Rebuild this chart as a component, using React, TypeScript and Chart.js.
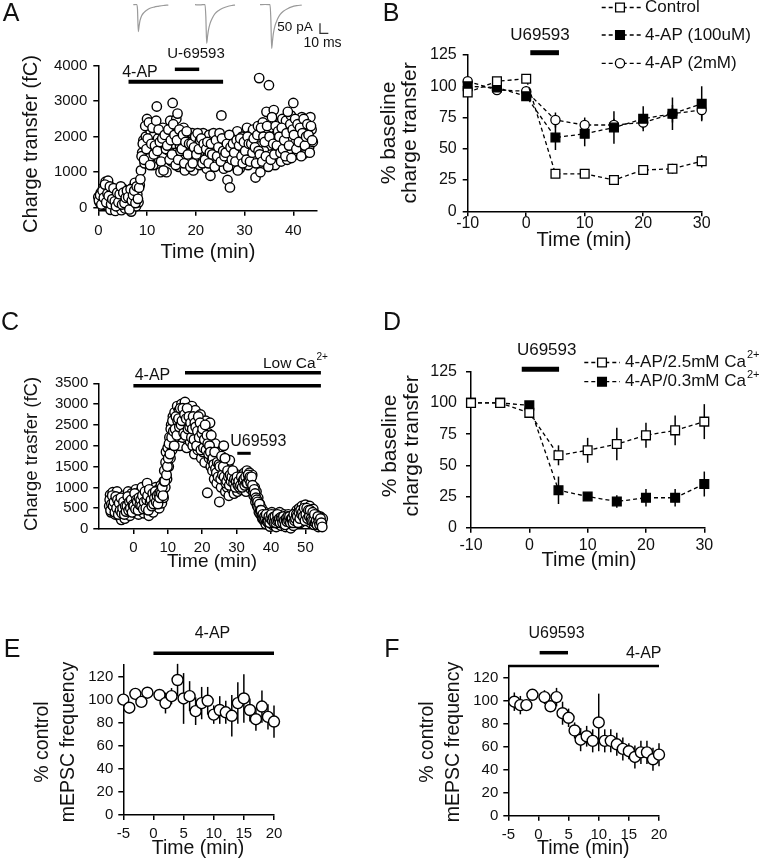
import React, { useEffect, useRef } from 'react';
import { Chart, registerables } from 'chart.js';
Chart.register(...registerables);

const W = 776;
const H = 863;
const FONT = '"Liberation Sans", Arial, Helvetica, sans-serif';
const INK = '#111';

// ---------------- DATA ----------------
// Panel A: charge transfer (fC), two interleaved sweep sets, each every 0.25 min
const aStart = 0;
const aStep = 0.25;
const aCharge = [
  300, 150, 420, 250, 560, 80, 730, 320, 760, 200, -60, 450, 120, 380, -90, 260,
  480, 30, 330, -70, 200, 520, -20, 350, 100, 430, 250, -110, 560, 180, 700, 40,
  380, 150, 640, 1050, 1550, 1900, 1250, 2000, 2500, 1700, 1400, 2150, 1850, 1200, 2050, 1600,
  2850, 1950, 1350, 1000, 1700, 2250, 1450, 1900, 1000, 2000, 1600, 2450, 1300, 2950, 1800, 2100,
  2500, 2650, 1150, 1750, 1950, 1450, 2250, 1050, 1700, 2000, 1300, 1850, 1550, 2100, 1050, 1900,
  1350, 1800, 2000, 1200, 1700, 1450, 2100, 1600, 1900, 1100, 1500, 2050, 900, 1700, 1350, 1950,
  1600, 2000, 1250, 1750, 1450, 2600, 1800, 1100, 1900, 1300, 780, 1650, 570, 1500, 2000, 1200,
  1850, 1400, 2150, 1600, 1100, 1750, 2000, 1350, 1900, 1500, 2250, 1200, 1650, 2050, 1350, 2200,
  1450, 850, 1900, 2300, 3650, 1000, 1750, 2400, 1600, 2100, 2700, 1350, 3450, 1900, 1500, 2250,
  2750, 1200, 2050, 1700, 2350, 1800, 1300, 2500, 1600, 2200, 2450, 1350, 2100, 1550, 2600, 1900,
  2950, 1800, 2300, 1500, 2450, 2050, 1700, 2550, 1500, 2300, 2150, 1850, 2400, 1700, 2550, 2200,
  1850,
];
const aChargeMid = [
  200, 350, 90, 480, 280, 650, 150, 400, 330, 600, 100, 240, 550, 180, 40, 420,
  150, 380, 600, 90, 420, 130, 280, 480, 300, -50, 520, 200, 350, 480, 130, 600,
  250, 560, 800, 1450, 1800, 1350, 2300, 1650, 1950, 2400, 1200, 1800, 2250, 1500, 1750, 2450,
  1600, 2200, 1850, 1300, 1950, 1050, 2050, 1650, 1750, 2200, 1350, 1900, 1500, 2350, 2050, 1200,
  1900, 1350, 2200, 1600, 1650, 2050, 1250, 1850, 2150, 1500, 1800, 1150, 1800, 1250, 1700, 2000,
  1500, 2100, 1650, 1900, 1950, 1250, 1800, 1350, 1650, 1850, 1250, 1550, 1800, 1500, 2100, 1150,
  1900, 1450, 1700, 2100, 1300, 1950, 1600, 1450, 1550, 1800, 1150, 2050, 1700, 1350, 1800, 1550,
  1300, 1900, 1050, 1750, 1950, 1450, 1250, 1850, 1600, 1350, 2000, 1800, 1300, 1800, 1550, 1950,
  1700, 1250, 2050, 1600, 1500, 2250, 1300, 2000, 1850, 1450, 2300, 1150, 2000, 1350, 2550, 1800,
  1500, 2300, 1750, 2150, 2000, 1550, 2250, 1650, 1900, 1450, 2100, 2700, 1750, 2350, 1400, 2200,
  2050, 2500, 1650, 2350, 1850, 2250, 1450, 2100, 2500, 1750, 2000, 2350, 2050, 1550, 2300, 1900,
];

// Panel C: charge transfer (fC), two interleaved sweep sets, each every 0.25 min from t = -7
const cStart = -7;
const cStep = 0.25;
const cCharge = [
  550, 820, 400, 650, 880, 480, 700, 350, 600, 900, 420, 750, 300, 650, 220, 550,
  480, 800, 250, 600, 700, 380, 900, 500, 320, 650, 850, 450, 720, 400, 600, 950,
  500, 800, 350, 680, 900, 450, 1000, 620, 380, 750, 550, 850, 1100, 600, 320, 780,
  500, 900, 680, 400, 850, 620, 1000, 550, 700, 950, 500, 820, 1050, 620, 900, 750,
  1400, 1000, 1850, 1200, 1950, 1500, 2200, 1700, 2500, 1900, 2700, 2200, 2800, 2100, 2500, 2950,
  2300, 2850, 2000, 2600, 3000, 2200, 2700, 2400, 3050, 2500, 1950, 2750, 2300, 2850, 2100, 2600,
  2950, 2000, 2500, 1800, 2850, 2200, 2600, 1900, 2400, 2050, 2750, 1700, 2200, 1850, 2450, 1600,
  2600, 2000, 870, 2300, 1700, 2550, 1500, 2100, 1400, 1900, 1200, 2050, 1700, 1100, 1500, 1850,
  650, 1350, 1000, 1650, 1200, 2000, 1450, 900, 1300, 1000, 1550, 800, 1650, 1100, 1400, 950,
  1250, 850, 1300, 1050, 1150, 900, 1300, 1050, 1200, 950, 1100, 1300, 1000, 1350, 1150, 900,
  1400, 1250, 1050, 1350, 1200, 950, 1300, 1000, 800, 1000, 650, 900, 550, 750, 400, 600,
  350, 500, 250, 400, 200, 400, 120, 300, 350, 150, 280, 60, 250, 400, 100, 300,
  180, 350, 50, 250, 300, 120, 400, 200, 80, 280, 150, 350, 200, 50, 300, 150,
  350, 100, 250, 20, 150, 300, 80, 250, 380, 150, 450, 200, 300, 500, 150, 400,
  550, 250, 480, 350, 580, 200, 450, 300, 400, 550, 150, 350, 250, 480, 100, 300,
  350, 150, 250, 50, 200, 300, 80, 150, 250,
];
const cChargeMid = [
  700, 450, 600, 800, 550, 650, 400, 780, 500, 700, 350, 620, 450, 750, 380, 500,
  650, 350, 550, 420, 550, 780, 450, 650, 500, 700, 400, 580, 550, 850, 480, 700,
  650, 450, 750, 580, 700, 550, 800, 480, 650, 900, 500, 700, 800, 450, 950, 650,
  700, 550, 850, 600, 750, 900, 650, 800, 600, 850, 750, 900, 850, 1000, 800, 1150,
  1150, 1600, 1300, 1500, 1700, 2050, 1800, 2400, 2200, 2600, 2350, 2000, 2400, 2700, 2250, 2600,
  2650, 2450, 2900, 2500, 2600, 2900, 2300, 2750, 2250, 2650, 2900, 2400, 2700, 2450, 2550, 2200,
  2400, 2700, 2150, 2550, 2450, 2000, 2350, 2700, 2200, 2550, 1900, 2300, 2400, 1950, 2150, 2500,
  1900, 2250, 2050, 1800, 2000, 1850, 2250, 1650, 1700, 1550, 1850, 1450, 1350, 1600, 1250, 1550,
  1500, 1200, 1750, 1300, 1500, 1250, 1700, 1100, 1150, 1400, 1250, 1050, 1300, 1150, 1250, 1400,
  1100, 1200, 1000, 1150, 1250, 1050, 1150, 1000, 1050, 1250, 1000, 1150, 1200, 1050, 1250, 1100,
  1100, 1300, 1200, 1250, 1100, 1250, 1050, 900, 950, 850, 750, 700, 650, 500, 600, 450,
  450, 300, 350, 250, 300, 250, 350, 180, 200, 300, 150, 250, 350, 200, 280, 150,
  300, 150, 200, 350, 200, 250, 150, 280, 250, 150, 300, 200, 100, 250, 180, 300,
  200, 300, 150, 250, 250, 150, 350, 200, 250, 350, 300, 150, 400, 250, 450, 350,
  400, 300, 500, 200, 350, 500, 250, 450, 300, 450, 250, 200, 400, 200, 350, 150,
  200, 100, 300, 180, 100, 250, 150, 50,
];

// Panel B
const bTime = [-10, -5, 0, 5, 10, 15, 20, 25, 30];
const bControl = [95, 104, 106, 30, 30, 25, 33, 34, 40];
const bControlErr = [3, 2, 2, 3, 3, 3, 4, 4, 5];
const b100uM = [100, 99, 92, 59, 62, 67, 74, 78, 86];
const b100uMErr = [4, 3, 3, 10, 10, 13, 10, 13, 14];
const b2mM = [104, 97, 96, 73, 69, 69, 71, 78, 81];
const b2mMErr = [3, 2, 4, 6, 6, 5, 5, 7, 8];

// Panel D
const dTime = [-10, -5, 0, 5, 10, 15, 20, 25, 30];
const d25Ca = [100, 100, 92, 58, 62, 67, 74, 78, 85];
const d25CaErr = [2, 2, 3, 8, 10, 13, 10, 12, 14];
const d03Ca = [100, 100, 98, 30, 25, 21, 24, 24, 35];
const d03CaErr = [2, 2, 2, 11, 3, 5, 7, 7, 10];

// Panel E
const eTime = [-5, -4, -3, -2, -1, 1, 2, 3, 4, 5, 6, 7, 8, 9, 10, 11, 12, 13, 14, 15, 16, 17, 18, 19, 20];
const eFreq = [100, 93, 105, 98, 106, 104, 97, 103, 117, 101, 103, 90, 97, 99, 87, 91, 89, 86, 97, 101, 91, 83, 94, 85, 81];
const eErr = [3, 4, 3, 3, 3, 4, 9, 7, 14, 22, 13, 12, 14, 12, 8, 12, 10, 18, 18, 21, 10, 10, 14, 11, 14];

// Panel F
const fTime = [-4, -3, -2, -1, 1, 2, 3, 4, 5, 6, 7, 8, 9, 10, 11, 12, 13, 14, 15, 16, 17, 18, 19, 20];
const fFreq = [99, 96, 96, 105, 103, 95, 103, 89, 85, 74, 66, 69, 65, 81, 65, 65, 62, 58, 56, 51, 55, 55, 49, 53];
const fErr = [8, 8, 4, 4, 6, 5, 8, 10, 8, 7, 10, 9, 10, 25, 10, 10, 10, 10, 7, 10, 10, 10, 10, 10];

// Example EPSC traces (ms, pA)
const trace1T = [0, 4, 5, 6, 7, 8, 10, 13, 16, 20, 25, 30, 36, 42];
const trace1V = [0, 1, -20, -135, -105, -80, -55, -38, -28, -18, -12, -8, -4, -2];
const trace2T = [0, 6, 12, 13, 14, 15, 16, 18, 21, 24, 28, 33, 38, 44, 48];
const trace2V = [0, -1, 1, -60, -193, -160, -130, -95, -65, -45, -30, -18, -10, -4, -2];
const trace3T = [0, 6, 12, 13, 14, 15, 16, 18, 21, 24, 28, 33, 38, 44, 50];
const trace3V = [0, 1, 0, -70, -218, -180, -145, -105, -72, -50, -33, -20, -11, -5, -2];

// Tick values
const aXTicks = [0, 10, 20, 30, 40];
const aYTicks = [0, 1000, 2000, 3000, 4000];
const bXTicks = [-10, 0, 10, 20, 30];
const bYTicks = [0, 25, 50, 75, 100, 125];
const cXTicks = [0, 10, 20, 30, 40, 50];
const cYTicks = [0, 500, 1000, 1500, 2000, 2500, 3000, 3500];
const efXTicks = [-5, 0, 5, 10, 15, 20];
const efYTicks = [0, 20, 40, 60, 80, 100, 120];

// ---------------- HELPERS ----------------
const pts = (xs: number[], ys: number[]) => ys.map((y, i) => ({ x: xs[i], y }));
const sampled = (start: number, step: number, ys: number[]) => ys.map((y, i) => ({ x: start + i * step, y }));

type Area = { l: number; t: number; r: number; b: number };
type Bar = { x1: number; x2: number; y: number; lw: number };
type Txt = { t: string; x: number; y: number; s: number; rot?: boolean; align?: 'left' | 'center' | 'right'; sup?: string };
type Leg = { ds: number; y: number; x1: number; x2: number; mx: number; tx: number; t: string; s: number; sup?: string };
type ScaleBar = { cx: number; cy: number; ms: number; pA: number };
type Anno = { bars?: Bar[]; texts?: Txt[]; legend?: Leg[]; scaleBar?: ScaleBar };

function drawText(ctx: CanvasRenderingContext2D, it: Txt) {
  ctx.save();
  ctx.fillStyle = INK;
  ctx.textBaseline = 'middle';
  ctx.textAlign = 'left';
  ctx.translate(it.x, it.y);
  if (it.rot) ctx.rotate(-Math.PI / 2);
  ctx.font = `${it.s}px ${FONT}`;
  const mainW = ctx.measureText(it.t).width;
  const supS = it.s * 0.65;
  let supW = 0;
  if (it.sup) {
    ctx.font = `${supS}px ${FONT}`;
    supW = ctx.measureText(it.sup).width + 1;
  }
  const total = mainW + supW;
  const al = it.align || 'center';
  const x0 = al === 'center' ? -total / 2 : al === 'right' ? -total : 0;
  ctx.font = `${it.s}px ${FONT}`;
  ctx.fillText(it.t, x0, 0);
  if (it.sup) {
    ctx.font = `${supS}px ${FONT}`;
    ctx.fillText(it.sup, x0 + mainW + 1, -it.s * 0.42);
  }
  ctx.restore();
}

function drawMarker(ctx: CanvasRenderingContext2D, style: string, r: number, x: number, y: number, fill: string, stroke: string, lw: number) {
  ctx.save();
  ctx.beginPath();
  if (style === 'rect') {
    const s = r * Math.SQRT1_2;
    ctx.rect(x - s, y - s, 2 * s, 2 * s);
  } else {
    ctx.arc(x, y, r, 0, Math.PI * 2);
  }
  ctx.fillStyle = fill;
  ctx.fill();
  ctx.lineWidth = lw;
  ctx.strokeStyle = stroke;
  ctx.stroke();
  ctx.restore();
}

function annoPlugin(a: Anno) {
  return {
    id: 'anno',
    beforeDatasetsDraw(chart: any) {
      const ctx: CanvasRenderingContext2D = chart.ctx;
      const ys = chart.scales.y;
      chart.data.datasets.forEach((ds: any, i: number) => {
        if (!ds.errors) return;
        const meta = chart.getDatasetMeta(i);
        ctx.save();
        ctx.strokeStyle = '#000';
        ctx.lineWidth = 1.5;
        ds.data.forEach((p: any, j: number) => {
          const e = ds.errors[j];
          if (!e) return;
          const x = meta.data[j].x;
          ctx.beginPath();
          ctx.moveTo(x, ys.getPixelForValue(p.y - e));
          ctx.lineTo(x, ys.getPixelForValue(p.y + e));
          ctx.stroke();
        });
        ctx.restore();
      });
    },
    afterDraw(chart: any) {
      const ctx: CanvasRenderingContext2D = chart.ctx;
      const xs = chart.scales.x;
      const ys = chart.scales.y;
      (a.bars || []).forEach((b) => {
        ctx.save();
        ctx.strokeStyle = '#000';
        ctx.lineWidth = b.lw;
        ctx.lineCap = 'butt';
        ctx.beginPath();
        ctx.moveTo(xs.getPixelForValue(b.x1), b.y);
        ctx.lineTo(xs.getPixelForValue(b.x2), b.y);
        ctx.stroke();
        ctx.restore();
      });
      (a.legend || []).forEach((lg) => {
        const ds = chart.data.datasets[lg.ds];
        ctx.save();
        ctx.strokeStyle = ds.borderColor;
        ctx.lineWidth = ds.borderWidth;
        ctx.setLineDash(ds.borderDash || []);
        ctx.beginPath();
        ctx.moveTo(lg.x1, lg.y);
        ctx.lineTo(lg.x2, lg.y);
        ctx.stroke();
        ctx.restore();
        drawMarker(ctx, ds.pointStyle, ds.pointRadius, lg.mx, lg.y, ds.pointBackgroundColor, ds.pointBorderColor, ds.pointBorderWidth);
        drawText(ctx, { t: lg.t, x: lg.tx, y: lg.y, s: lg.s, align: 'left', sup: lg.sup });
      });
      if (a.scaleBar) {
        const sb = a.scaleBar;
        const hLen = Math.abs(xs.getPixelForValue(sb.ms) - xs.getPixelForValue(0));
        const vLen = Math.abs(ys.getPixelForValue(sb.pA) - ys.getPixelForValue(0));
        ctx.save();
        ctx.strokeStyle = '#333';
        ctx.lineWidth = 1.3;
        ctx.beginPath();
        ctx.moveTo(sb.cx, sb.cy - vLen);
        ctx.lineTo(sb.cx, sb.cy);
        ctx.lineTo(sb.cx + hLen, sb.cy);
        ctx.stroke();
        ctx.restore();
      }
      (a.texts || []).forEach((t) => drawText(ctx, t));
    },
  };
}

function linAxis(pos: 'left' | 'bottom', min: number, max: number, ticks: number[], size: number, fontSize: number, pad: number) {
  return {
    type: 'linear',
    position: pos,
    min,
    max,
    afterBuildTicks: (s: any) => {
      s.ticks = ticks.map((v) => ({ value: v }));
    },
    afterFit: (s: any) => {
      if (pos === 'left') s.width = size;
      else s.height = size;
    },
    grid: { display: true, drawOnChartArea: false, drawTicks: true, tickLength: 5, color: '#000', lineWidth: 1.5 },
    border: { display: true, color: '#000', width: 1.5 },
    ticks: {
      color: INK,
      font: { family: FONT, size: fontSize },
      padding: pad,
      maxRotation: 0,
      minRotation: 0,
      autoSkip: false,
      callback: (v: any) => String(v),
    },
    title: { display: false },
  };
}

type AxSpec = { min: number; max: number; ticks: number[]; font: number; pad: number };

function plotConfig(area: Area, xa: AxSpec, ya: AxSpec, datasets: any[], anno: Anno) {
  return {
    type: 'scatter',
    data: { datasets },
    options: {
      responsive: false,
      animation: false,
      events: [],
      layout: { padding: { left: 0, top: area.t, right: W - area.r, bottom: 0 } },
      scales: {
        x: linAxis('bottom', xa.min, xa.max, xa.ticks, H - area.b, xa.font, xa.pad),
        y: linAxis('left', ya.min, ya.max, ya.ticks, area.l, ya.font, ya.pad),
      },
      plugins: { legend: { display: false }, tooltip: { enabled: false } },
    },
    plugins: [annoPlugin(anno)],
  };
}

function traceConfig(area: Area, t: number[], v: number[], anno: Anno) {
  return {
    type: 'scatter',
    data: {
      datasets: [
        {
          data: pts(t, v),
          showLine: true,
          pointRadius: 0,
          borderColor: '#9a9a9a',
          borderWidth: 1.2,
          cubicInterpolationMode: 'monotone',
          clip: false,
        },
      ],
    },
    options: {
      responsive: false,
      animation: false,
      events: [],
      layout: { padding: { left: area.l, top: area.t, right: W - area.r, bottom: H - area.b } },
      scales: {
        x: { type: 'linear', display: false, min: 0, max: 50 },
        y: { type: 'linear', display: false, min: -226.5, max: 23.5 },
      },
      plugins: { legend: { display: false }, tooltip: { enabled: false } },
    },
    plugins: [annoPlugin(anno)],
  };
}

const openCircle = (r: number) => ({
  pointStyle: 'circle',
  pointRadius: r,
  pointBackgroundColor: '#fff',
  pointBorderColor: '#000',
  pointBorderWidth: 1.4,
  showLine: false,
  clip: false,
});

const dashed = (style: string, r: number, fill: string) => ({
  showLine: true,
  borderColor: '#000',
  borderWidth: 1.3,
  borderDash: [4, 3],
  pointStyle: style,
  pointRadius: r,
  pointBackgroundColor: fill,
  pointBorderColor: '#000',
  pointBorderWidth: 1.3,
  clip: false,
});

// ---------------- PANELS ----------------
const builders: (() => any)[] = [
  // Panel A
  () =>
    plotConfig(
      { l: 98.3, t: 65.7, r: 316.7, b: 210.7 },
      { min: 0, max: 44.8, ticks: aXTicks, font: 15, pad: 6 },
      { min: -85, max: 4000, ticks: aYTicks, font: 15, pad: 6 },
      [
        {
          data: [...sampled(aStart, aStep, aCharge), ...sampled(aStart + aStep / 2, aStep, aChargeMid)],
          ...openCircle(4.7),
        },
      ],
      {
        bars: [
          { x1: 6.2, x2: 25.6, y: 81.7, lw: 4 },
          { x1: 15.7, x2: 20.7, y: 69.3, lw: 3.5 },
        ],
        texts: [
          { t: 'A', x: 11, y: 14, s: 25 },
          { t: 'Charge transfer (fC)', x: 31, y: 144, s: 20, rot: true },
          { t: 'Time (min)', x: 208, y: 252, s: 20 },
          { t: '4-AP', x: 140, y: 72.5, s: 16 },
          { t: 'U-69593', x: 196, y: 54, s: 15 },
        ],
      }
    ),
  // Traces
  () => traceConfig({ l: 133.3, t: 0, r: 175, b: 50 }, trace1T, trace1V, {}),
  () => traceConfig({ l: 195, t: 0, r: 236.7, b: 50 }, trace2T, trace2V, {}),
  () =>
    traceConfig({ l: 260, t: 0, r: 301.7, b: 50 }, trace3T, trace3V, {
      scaleBar: { cx: 320, cy: 33.3, ms: 10, pA: 50 },
      texts: [
        { t: '50 pA', x: 295, y: 27, s: 13.5 },
        { t: '10 ms', x: 322.5, y: 43.3, s: 14 },
      ],
    }),
  // Panel B
  () =>
    plotConfig(
      { l: 467.7, t: 55, r: 701.7, b: 211.3 },
      { min: -10, max: 30, ticks: bXTicks, font: 16, pad: -2 },
      { min: 0, max: 125, ticks: bYTicks, font: 16, pad: 6 },
      [
        { label: 'Control', data: pts(bTime, bControl), errors: bControlErr, ...dashed('rect', 6.2, '#fff') },
        { label: '4-AP (100uM)', data: pts(bTime, b100uM), errors: b100uMErr, ...dashed('rect', 6.2, '#000') },
        { label: '4-AP (2mM)', data: pts(bTime, b2mM), errors: b2mMErr, ...dashed('circle', 4.6, '#fff') },
      ],
      {
        bars: [{ x1: 0.7, x2: 5.6, y: 52.7, lw: 5 }],
        legend: [
          { ds: 0, y: 7.5, x1: 601.7, x2: 641.7, mx: 620, tx: 645, t: 'Control', s: 17 },
          { ds: 1, y: 35, x1: 601.7, x2: 641.7, mx: 620, tx: 645, t: '4-AP (100uM)', s: 17 },
          { ds: 2, y: 63.3, x1: 601.7, x2: 641.7, mx: 620, tx: 645, t: '4-AP (2mM)', s: 17 },
        ],
        texts: [
          { t: 'B', x: 391, y: 14, s: 25 },
          { t: '% baseline', x: 389.5, y: 133, s: 21, rot: true },
          { t: 'charge transfer', x: 410.5, y: 133, s: 21, rot: true },
          { t: 'Time (min)', x: 584, y: 240.5, s: 20 },
          { t: 'U69593', x: 540, y: 35.8, s: 17 },
        ],
      }
    ),
  // Panel C
  () =>
    plotConfig(
      { l: 98.3, t: 383.3, r: 324, b: 529 },
      { min: -10.2, max: 55.4, ticks: cXTicks, font: 15, pad: 5 },
      { min: 0, max: 3500, ticks: cYTicks, font: 15, pad: 5 },
      [
        {
          data: [...sampled(cStart, cStep, cCharge), ...sampled(cStart + cStep / 2, cStep, cChargeMid)],
          ...openCircle(4.8),
        },
      ],
      {
        bars: [
          { x1: 0, x2: 54.5, y: 385.7, lw: 3.5 },
          { x1: 15, x2: 54.5, y: 372.7, lw: 3.5 },
          { x1: 30.2, x2: 34.1, y: 453.3, lw: 3 },
        ],
        texts: [
          { t: 'C', x: 10, y: 323, s: 25 },
          { t: 'Charge trasfer (fC)', x: 31.5, y: 454, s: 18.5, rot: true },
          { t: 'Time (min)', x: 212, y: 561.7, s: 19 },
          { t: '4-AP', x: 152.5, y: 376, s: 16 },
          { t: 'Low Ca', x: 328, y: 363.3, s: 15.5, align: 'right', sup: '2+' },
          { t: 'U69593', x: 258.3, y: 441.7, s: 16 },
        ],
      }
    ),
  // Panel D
  () =>
    plotConfig(
      { l: 471, t: 371.7, r: 704.3, b: 527.7 },
      { min: -10, max: 30, ticks: bXTicks, font: 16, pad: 3 },
      { min: 0, max: 125, ticks: bYTicks, font: 16, pad: 9 },
      [
        { label: '4-AP/2.5mM Ca2+', data: pts(dTime, d25Ca), errors: d25CaErr, ...dashed('rect', 6.2, '#fff') },
        { label: '4-AP/0.3mM Ca2+', data: pts(dTime, d03Ca), errors: d03CaErr, ...dashed('rect', 6.2, '#000') },
      ],
      {
        bars: [{ x1: -1.3, x2: 5.1, y: 369.3, lw: 5 }],
        legend: [
          { ds: 0, y: 362.5, x1: 584.3, x2: 620, mx: 602, tx: 625, t: '4-AP/2.5mM Ca', s: 17, sup: '2+' },
          { ds: 1, y: 381.7, x1: 584.3, x2: 620, mx: 602, tx: 625, t: '4-AP/0.3mM Ca', s: 17, sup: '2+' },
        ],
        texts: [
          { t: 'D', x: 392, y: 323, s: 25 },
          { t: '% baseline', x: 390, y: 446, s: 21, rot: true },
          { t: 'charge transfer', x: 412, y: 446, s: 21, rot: true },
          { t: 'Time (min)', x: 589, y: 560.5, s: 20 },
          { t: 'U69593', x: 546.7, y: 350, s: 17 },
        ],
      }
    ),
  // Panel E
  () =>
    plotConfig(
      { l: 123.3, t: 665, r: 274, b: 815 },
      { min: -5, max: 20, ticks: efXTicks, font: 15, pad: 5 },
      { min: 0, max: 130, ticks: efYTicks, font: 15, pad: 5 },
      [{ data: pts(eTime, eFreq), errors: eErr, ...openCircle(5.5) }],
      {
        bars: [{ x1: 0, x2: 20, y: 653.3, lw: 3.5 }],
        texts: [
          { t: 'E', x: 12, y: 650, s: 25 },
          { t: '% control', x: 42.5, y: 742, s: 19.5, rot: true },
          { t: 'mEPSC frequency', x: 68.3, y: 742, s: 19.5, rot: true },
          { t: 'Time (min)', x: 198, y: 848.7, s: 19.5 },
          { t: '4-AP', x: 212.5, y: 634, s: 16 },
        ],
      }
    ),
  // Panel F
  () =>
    plotConfig(
      { l: 508.3, t: 666, r: 659, b: 815.7 },
      { min: -5, max: 20, ticks: efXTicks, font: 15, pad: 5 },
      { min: 0, max: 130, ticks: efYTicks, font: 15, pad: 5 },
      [{ data: pts(fTime, fFreq), errors: fErr, ...openCircle(5.5) }],
      {
        bars: [
          { x1: 0.2, x2: 4.9, y: 652.7, lw: 3.5 },
          { x1: -5, x2: 20, y: 666, lw: 2.5 },
        ],
        texts: [
          { t: 'F', x: 392, y: 650, s: 25 },
          { t: '% control', x: 427.5, y: 742, s: 19.5, rot: true },
          { t: 'mEPSC frequency', x: 453.5, y: 742, s: 19.5, rot: true },
          { t: 'Time (min)', x: 583.3, y: 848.7, s: 19.5 },
          { t: 'U69593', x: 556.5, y: 634, s: 16 },
          { t: '4-AP', x: 643.7, y: 653.3, s: 16 },
        ],
      }
    ),
];

function ChartLayer({ build }: { build: () => any }) {
  const ref = useRef<HTMLCanvasElement>(null);
  useEffect(() => {
    const chart = new Chart(ref.current as HTMLCanvasElement, build());
    return () => chart.destroy();
  }, [build]);
  return (
    <canvas
      ref={ref}
      width={W}
      height={H}
      style={{ position: 'absolute', left: 0, top: 0, width: W, height: H }}
    />
  );
}

export default function App() {
  return (
    <div style={{ position: 'absolute', left: 0, top: 0, width: W, height: H, background: '#fff', overflow: 'hidden' }}>
      {builders.map((b, i) => (
        <ChartLayer key={i} build={b} />
      ))}
    </div>
  );
}
